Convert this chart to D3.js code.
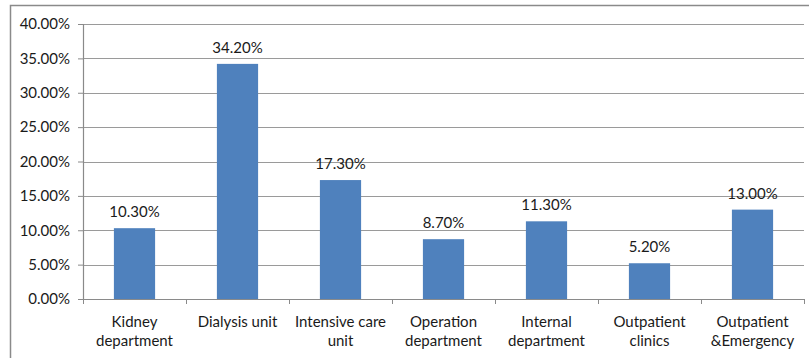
<!DOCTYPE html>
<html>
<head>
<meta charset="utf-8">
<script src="https://cdn.jsdelivr.net/npm/d3@7"></script>
<style>
  html, body { margin: 0; padding: 0; background: #fff; }
  svg text { font-family: Lato, "Open Sans", sans-serif; fill: #1a1a1a; }
</style>
</head>
<body>
<svg id="chart" width="809" height="358"></svg>
<script>
// Share of cases by hospital unit
const categories = [
  ["Kidney", "department"],
  ["Dialysis unit"],
  ["Intensive care", "unit"],
  ["Operation", "department"],
  ["Internal", "department"],
  ["Outpatient", "clinics"],
  ["Outpatient", "&Emergency"]
];
const values = [10.3, 34.2, 17.3, 8.7, 11.3, 5.2, 13.0];
const yTicks = [0, 5, 10, 15, 20, 25, 30, 35, 40];

const svg = d3.select("#chart");
const margin = { left: 83, right: 5, top: 24, bottom: 59 };
const W = 809, H = 358;
const FS = 15;

// outer frame
svg.append("rect")
  .attr("x", 10.5).attr("y", 5.5)
  .attr("width", 820).attr("height", 400)
  .attr("fill", "none").attr("stroke", "#8a8a8a").attr("stroke-width", 1.5);

const x = d3.scaleBand()
  .domain(categories.map((d, i) => i))
  .range([margin.left, W - margin.right])
  .paddingInner(0.6).paddingOuter(0.3);

const y = d3.scaleLinear().domain([0, 40]).range([H - margin.bottom, margin.top]);

// gridlines
svg.append("g")
  .selectAll("line")
  .data(yTicks.filter(t => t > 0))
  .join("line")
  .attr("x1", margin.left).attr("x2", W - margin.right)
  .attr("y1", d => Math.round(y(d)) + 0.5).attr("y2", d => Math.round(y(d)) + 0.5)
  .attr("stroke", "#9a9a9a").attr("stroke-width", 1.2);

// bars
svg.append("g")
  .selectAll("rect")
  .data(values)
  .join("rect")
  .attr("x", (d, i) => x(i))
  .attr("width", x.bandwidth())
  .attr("y", d => y(d))
  .attr("height", d => y(0) - y(d))
  .attr("fill", "#4f81bd");

// value labels
svg.append("g")
  .selectAll("text")
  .data(values)
  .join("text")
  .attr("x", (d, i) => x(i) + x.bandwidth() / 2)
  .attr("y", d => y(d) - 11)
  .attr("text-anchor", "middle")
  .attr("font-size", FS)
  .text(d => d.toFixed(2) + "%");

// y axis
const yAxis = d3.axisLeft(y).tickValues(yTicks).tickSize(5).tickPadding(8)
  .tickFormat(d => d.toFixed(2) + "%");
const gy = svg.append("g").attr("transform", `translate(${margin.left},0)`).call(yAxis);
gy.select(".domain").attr("stroke", "#8a8a8a").attr("stroke-width", 1.2);
gy.selectAll(".tick line").attr("stroke", "#8a8a8a");
gy.selectAll(".tick text").attr("font-size", FS).attr("font-family", "Lato, sans-serif").attr("fill", "#1a1a1a");

// x axis with ticks at category boundaries
const xBoundaries = d3.range(categories.length + 1).map(i => margin.left + i * (W - margin.right - margin.left) / categories.length);
svg.append("line")
  .attr("x1", margin.left).attr("x2", W - margin.right)
  .attr("y1", y(0) + 0.5).attr("y2", y(0) + 0.5)
  .attr("stroke", "#8a8a8a").attr("stroke-width", 1.2);
svg.append("g")
  .selectAll("line")
  .data(xBoundaries)
  .join("line")
  .attr("x1", d => Math.round(d) + 0.5).attr("x2", d => Math.round(d) + 0.5)
  .attr("y1", y(0)).attr("y2", y(0) + 5)
  .attr("stroke", "#8a8a8a");

// category labels
const lbl = svg.append("g")
  .selectAll("text")
  .data(categories)
  .join("text")
  .attr("x", (d, i) => x(i) + x.bandwidth() / 2)
  .attr("y", 327)
  .attr("text-anchor", "middle")
  .attr("font-size", FS);
lbl.selectAll("tspan")
  .data(d => d)
  .join("tspan")
  .attr("x", function () { return this.parentNode.getAttribute("x"); })
  .attr("dy", (d, i) => i === 0 ? 0 : 19)
  .text(d => d);
</script>
</body>
</html>
